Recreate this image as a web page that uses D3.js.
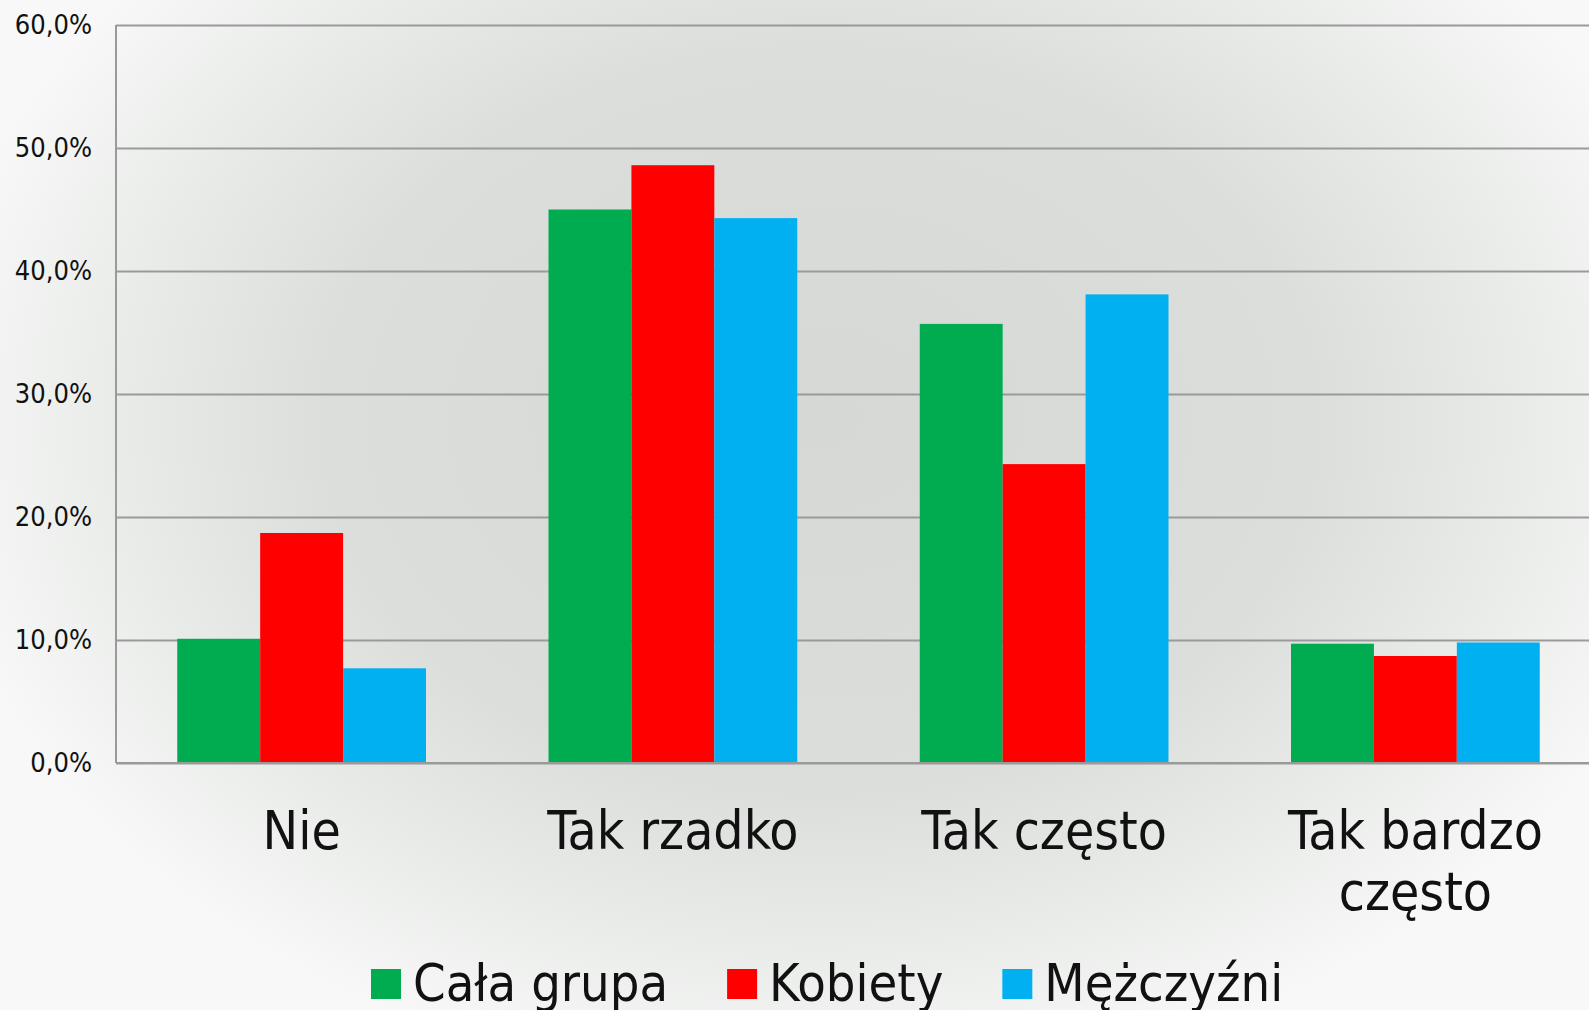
<html>

<head>
  <title>Odpowiedzi wg płci</title>
  <script src="https://d3js.org/d3.v7.min.js"></script>

  <style>
    body {
      margin: 0;
      overflow: hidden;
    }

    text {
      font-family: "DejaVu Sans Condensed", "DejaVu Sans", sans-serif;
      font-stretch: condensed;
      fill: #111;
    }

    .gridlines line {
      stroke: #9a9a9a;
      stroke-width: 2;
    }

    .gridlines .domain {
      stroke: none;
    }
  </style>

</head>

<body>
  <svg id="chart" width=1589 height=1010></svg>

  <script>
    // data (percent)
    const categories = ["Nie", "Tak rzadko", "Tak często", "Tak bardzo często"];
    const seriesNames = ["Cała grupa", "Kobiety", "Mężczyźni"];
    const calaGrupa = [10.1, 45.0, 35.7, 9.7];
    const kobiety = [18.7, 48.6, 24.3, 8.7];
    const mezczyzni = [7.7, 44.3, 38.1, 9.8];
    const yTicks = [0, 10, 20, 30, 40, 50, 60];

    const seriesValues = [calaGrupa, kobiety, mezczyzni];
    const colors = ["#00ac4f", "#ff0000", "#00b0f0"];

    let svg = d3.select("svg#chart");
    let width = +svg.attr("width");
    let height = +svg.attr("height");
    let margin = { top: 25, left: 116, bottom: 247, right: -12 };
    let chartWidth = width - margin.left - margin.right;
    let chartHeight = height - margin.top - margin.bottom;

    // background: soft radial gradient, grey in the middle
    let defs = svg.append("defs");
    let grad = defs.append("radialGradient")
      .attr("id", "bg")
      .attr("gradientUnits", "userSpaceOnUse")
      .attr("cx", 820).attr("cy", 420).attr("r", 900)
      .attr("gradientTransform", "translate(820,420) scale(1,0.75) translate(-820,-420)");
    grad.append("stop").attr("offset", "0%").attr("stop-color", "#d5d8d5");
    grad.append("stop").attr("offset", "55%").attr("stop-color", "#dbdedb");
    grad.append("stop").attr("offset", "100%").attr("stop-color", "#f7f8f7");

    svg.append("rect")
      .attr("width", width)
      .attr("height", height)
      .attr("fill", "url(#bg)");

    let chartArea = svg.append("g")
      .attr("transform", `translate(${margin.left}, ${margin.top})`);

    const xScale = d3.scaleBand()
      .domain(categories)
      .range([0, chartWidth])
      .paddingInner(0.33)
      .paddingOuter(0.165);

    const subScale = d3.scaleBand()
      .domain(seriesNames)
      .range([0, xScale.bandwidth()]);

    const yScale = d3.scaleLinear()
      .domain([0, 60])
      .range([chartHeight, 0]);

    // gridlines + tick labels
    let leftGridlines = d3.axisLeft(yScale)
      .tickValues(yTicks)
      .tickSize(-(width - margin.left))
      .tickPadding(24)
      .tickFormat(d => d3.format(".1f")(d).replace(".", ",") + "%");
    let yAxis = chartArea.append("g")
      .attr("class", "y gridlines")
      .call(leftGridlines);
    yAxis.selectAll("text")
      .style("font-size", "27px")
      .attr("fill", "#2a2a2a");

    // left axis line
    chartArea.append("line")
      .attr("x1", 0).attr("x2", 0)
      .attr("y1", yScale(60)).attr("y2", yScale(0))
      .attr("stroke", "#9a9a9a")
      .attr("stroke-width", 2);

    // bars
    seriesValues.forEach((vals, s) => {
      chartArea.selectAll(".bar" + s)
        .data(vals)
        .join("rect")
        .attr("class", "bar" + s)
        .attr("x", (d, i) => xScale(categories[i]) + subScale(seriesNames[s]))
        .attr("y", d => yScale(d))
        .attr("width", subScale.bandwidth())
        .attr("height", d => yScale(0) - yScale(d))
        .attr("fill", colors[s]);
    });

    // baseline on top of bars
    chartArea.append("line")
      .attr("x1", 0).attr("x2", width)
      .attr("y1", yScale(0)).attr("y2", yScale(0))
      .attr("stroke", "#9a9a9a")
      .attr("stroke-width", 2);

    // category labels (wrap the long one onto two lines)
    let labelLines = { "Tak bardzo często": ["Tak bardzo", "często"] };
    categories.forEach(c => {
      let lines = labelLines[c] || [c];
      let t = chartArea.append("text")
        .attr("text-anchor", "middle")
        .attr("x", xScale(c) + xScale.bandwidth() / 2)
        .attr("y", yScale(0) + 86)
        .style("font-size", "53px");
      lines.forEach((l, i) => {
        t.append("tspan")
          .attr("x", xScale(c) + xScale.bandwidth() / 2)
          .attr("dy", i == 0 ? 0 : 61)
          .text(l);
      });
    });

    // legend
    let legend = svg.append("g");
    let lx = 371;
    seriesNames.forEach((d, i) => {
      legend.append("rect")
        .attr("x", lx)
        .attr("y", 969)
        .attr("width", 30)
        .attr("height", 30)
        .attr("fill", colors[i]);
      let t = legend.append("text")
        .attr("x", lx + 42)
        .attr("y", 1001)
        .style("font-size", "52px")
        .text(d);
      lx = lx + 42 + t.node().getComputedTextLength() + 59;
    });
  </script>
</body>

</html>
